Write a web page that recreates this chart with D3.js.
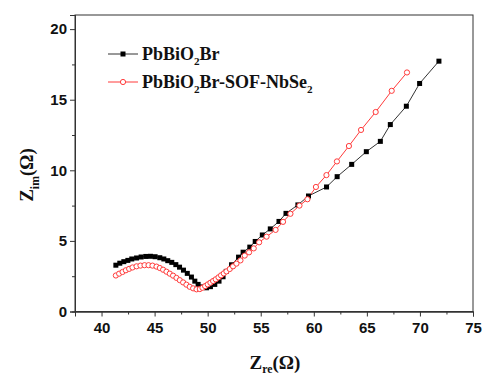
<!DOCTYPE html>
<html><head><meta charset="utf-8">
<script src="https://cdn.jsdelivr.net/npm/d3@7"></script>
<style>body{margin:0;background:#fff}</style>
</head><body>
<script>
const xTicks = [40,45,50,55,60,65,70,75];
const yTicks = [0,5,10,15,20];
const xMinor = [37.5,42.5,47.5,52.5,57.5,62.5,67.5,72.5];
const yMinor = [2.5,7.5,12.5,17.5];

const blackX = [41.35,41.72,42.1,42.48,42.85,43.3,43.73,44.17,44.61,45.05,45.49,45.87,46.24,46.62,47.0,47.35,47.72,48.08,48.47,48.79,49.1,49.5,49.89,50.26,50.67,51.07,51.45,51.75,52.25,52.91,53.34,53.97,54.48,55.15,55.9,56.72,57.38,58.5,59.5,61.2,62.2,63.57,64.95,66.27,67.21,68.72,69.97,71.79];
const blackY = [3.28,3.42,3.53,3.62,3.72,3.79,3.86,3.9,3.91,3.88,3.81,3.72,3.6,3.48,3.32,3.14,2.93,2.7,2.44,2.15,1.92,1.74,1.68,1.76,1.92,2.15,2.46,2.84,3.31,3.85,4.2,4.56,4.96,5.42,5.85,6.38,6.95,7.55,8.18,8.82,9.55,10.42,11.32,12.05,13.24,14.54,16.15,17.73];

const redX = [41.35,41.66,41.98,42.29,42.6,42.92,43.3,43.67,44.05,44.43,44.8,45.18,45.49,45.8,46.12,46.43,46.74,47.06,47.37,47.69,48.0,48.31,48.63,48.95,49.26,49.51,49.76,50.01,50.26,50.51,50.76,51.02,51.26,51.52,51.77,52.08,52.39,52.71,53.09,53.49,53.9,54.34,54.85,55.55,56.4,57.1,57.8,58.65,59.4,60.2,61.19,62.18,63.31,64.45,65.83,67.34,68.78];
const redY = [2.55,2.68,2.8,2.92,3.02,3.12,3.2,3.25,3.28,3.28,3.25,3.18,3.08,2.96,2.82,2.68,2.54,2.38,2.22,2.06,1.9,1.75,1.64,1.57,1.59,1.68,1.8,1.92,2.04,2.16,2.28,2.42,2.56,2.7,2.84,3.01,3.2,3.39,3.62,3.96,4.19,4.47,4.9,5.3,5.78,6.35,6.92,7.5,7.95,8.82,9.66,10.63,11.72,12.86,14.13,15.63,16.93];

const W = 486, H = 377;
const mL = 75, mR = 473, mT = 15, mB = 311.5;
const svg = d3.select("body").append("svg").attr("width", W).attr("height", H);
const x = d3.scaleLinear().domain([37.5, 75]).range([mL, mR]);
const y = d3.scaleLinear().domain([0, 21]).range([mB, mT]);

svg.append("rect").attr("x", mL).attr("y", mT).attr("width", mR-mL).attr("height", mB-mT)
  .attr("fill","none").attr("stroke","#333").attr("stroke-width",1);

const sans = "'Liberation Sans', Arial, sans-serif";
const serif = "'Liberation Serif', 'Times New Roman', serif";

const xAxis = svg.append("g").attr("transform", `translate(0,${mB})`)
  .call(d3.axisBottom(x).tickValues(xTicks).tickSize(5).tickPadding(6).tickFormat(d3.format("d")));
const xMin = svg.append("g").attr("transform", `translate(0,${mB})`)
  .call(d3.axisBottom(x).tickValues(xMinor).tickSize(3).tickFormat(""));
const yAxis = svg.append("g").attr("transform", `translate(${mL},0)`)
  .call(d3.axisLeft(y).tickValues(yTicks).tickSize(5).tickPadding(3).tickFormat(d3.format("d")));
const yMin = svg.append("g").attr("transform", `translate(${mL},0)`)
  .call(d3.axisLeft(y).tickValues(yMinor).tickSize(3).tickFormat(""));
[xAxis,xMin,yAxis,yMin].forEach(g=>{
  g.select(".domain").attr("stroke","#333");
  g.selectAll(".tick line").attr("stroke","#333");
  g.selectAll("text").attr("font-family", sans).attr("font-weight","bold").attr("font-size",15).attr("fill","#111");
});

const black = blackX.map((v,i)=>[v, blackY[i]]);
const red = redX.map((v,i)=>[v, redY[i]]);
const line = d3.line().x(d=>x(d[0])).y(d=>y(d[1]));

svg.append("path").datum(black).attr("d", line).attr("fill","none").attr("stroke","#333").attr("stroke-width",1);
svg.append("path").datum(red).attr("d", line).attr("fill","none").attr("stroke","#ff3b3b").attr("stroke-width",1);

svg.selectAll("rect.bm").data(black).enter().append("rect").attr("class","bm")
  .attr("x", d=>x(d[0])-2.5).attr("y", d=>y(d[1])-2.5).attr("width",5).attr("height",5).attr("fill","#000");
svg.selectAll("circle.rm").data(red).enter().append("circle").attr("class","rm")
  .attr("cx", d=>x(d[0])).attr("cy", d=>y(d[1])).attr("r",2.6)
  .attr("fill","#fff").attr("stroke","#ff3b3b").attr("stroke-width",1);

const lg = svg.append("g");
lg.append("line").attr("x1",108).attr("x2",138).attr("y1",54).attr("y2",54).attr("stroke","#333");
lg.append("rect").attr("x",120.5).attr("y",51.5).attr("width",5).attr("height",5).attr("fill","#000");
lg.append("line").attr("x1",108).attr("x2",138).attr("y1",82).attr("y2",82).attr("stroke","#ff3b3b");
lg.append("circle").attr("cx",123).attr("cy",82).attr("r",2.6).attr("fill","#fff").attr("stroke","#ff3b3b");

function subText(g, xx, yy, parts, size, anchor, shift) {
  const s = shift || 0.3;
  const t = g.append("text").attr("x", xx).attr("y", yy).attr("font-family", serif)
    .attr("font-weight","bold").attr("font-size", size).attr("fill","#111").attr("text-anchor", anchor||"start");
  parts.forEach(p => {
    if (p.sub) {
      t.append("tspan").attr("dy", size*s).attr("font-size", size*0.62).text(p.t);
    } else if (p.back) {
      t.append("tspan").attr("dy", -size*s).text(p.t);
    } else {
      t.append("tspan").text(p.t);
    }
  });
  return t;
}
subText(lg, 142, 60, [{t:"PbBiO"},{t:"2",sub:true},{t:"Br",back:true}], 18);
subText(lg, 142, 88, [{t:"PbBiO"},{t:"2",sub:true},{t:"Br-SOF-NbSe",back:true},{t:"2",sub:true}], 18);

subText(svg, 275, 369, [{t:"Z"},{t:"re",sub:true},{t:"(Ω)",back:true}], 19, "middle", 0.22);
const yt = svg.append("g").attr("transform","translate(33,175) rotate(-90)");
subText(yt, 0, 0, [{t:"Z"},{t:"im",sub:true},{t:"(Ω)",back:true}], 19, "middle");
</script>
</body></html>
